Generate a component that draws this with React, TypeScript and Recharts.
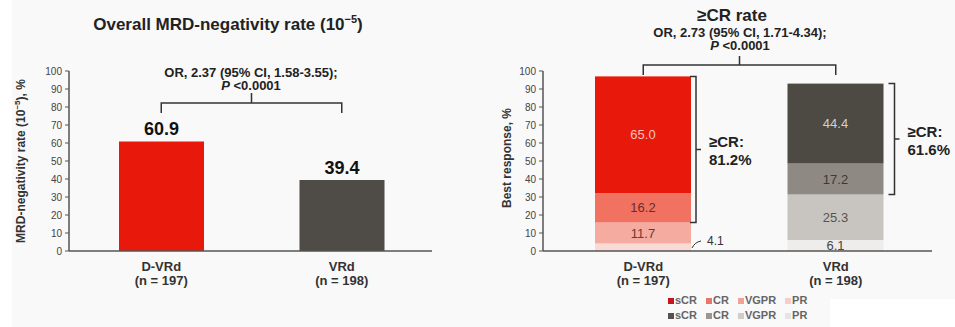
import React from 'react';
import { BarChart, Bar, XAxis, YAxis, Cell, LabelList, ReferenceLine } from 'recharts';

const FONT = '"Liberation Sans", Arial, Helvetica, sans-serif';

// ---- Overall MRD-negativity rate ----
const mrdArms = ['D-VRd', 'VRd'];
const mrdArmSizes = [197, 198];
const mrdRates = [60.9, 39.4];
const mrdOddsText = 'OR, 2.37 (95% CI, 1.58-3.55);';
const mrdPText = '<0.0001';

// ---- Best response ----
const respArms = ['D-VRd', 'VRd'];
const respArmSizes = [197, 198];
const respPR = [4.1, 6.1];
const respVGPR = [11.7, 25.3];
const respCR = [16.2, 17.2];
const respSCR = [65.0, 44.4];
const respOddsText = 'OR, 2.73 (95% CI, 1.71-4.34);';
const respPText = '<0.0001';
const responseLevels = ['sCR', 'CR', 'VGPR', 'PR'];

const yTicks = [0, 10, 20, 30, 40, 50, 60, 70, 80, 90, 100];

// comparison bracket heights (axis units)
const MRD_BRACKET_Y = 82.2;
const RESP_BRACKET_Y = 103.3;

// ---- styling ----
const ARM_COLORS = ['#e8190a', '#4f4b46'];
const SEG_COLORS: Record<string, string[]> = {
  sCR: ['#e8190a', '#4d4943'],
  CR: ['#f27262', '#8f8983'],
  VGPR: ['#f6aba1', '#c8c5c0'],
  PR: ['#fadad5', '#eeedeb'],
};
const SEG_TEXT: Record<string, string[]> = {
  sCR: ['#f6c4bb', '#d3cfca'],
  CR: ['#6b2c25', '#3d3935'],
  VGPR: ['#6b3a35', '#57534e'],
  PR: ['#333333', '#4a4642'],
};
const LEGEND_ROWS = [
  ['#c4161c', '#e8766c', '#f0a39b', '#f6cdca'],
  ['#555350', '#9a9792', '#cfcdca', '#e6e5e3'],
];
const AXIS = { stroke: '#555', strokeWidth: 1.5 };
const INK = '#222';
const CR_BRACKET_GAP = [5, 11];

const mrdData = mrdArms.map((arm, i) => ({ arm, rate: mrdRates[i] }));
const respData = respArms.map((arm, i) => ({
  arm,
  PR: respPR[i],
  VGPR: respVGPR[i],
  CR: respCR[i],
  sCR: respSCR[i],
}));

function armIndex(arms: string[], payload: any) {
  if (payload && typeof payload.index === 'number') return payload.index;
  return arms.indexOf(payload?.value);
}

function ArmTick(props: any) {
  const { x, y, payload, arms, sizes } = props;
  const i = armIndex(arms, payload);
  return (
    <g transform={`translate(${x},${y})`}>
      <text textAnchor="middle" fontFamily={FONT} fontWeight="bold" fontSize={13} fill="#333">
        <tspan x={0} dy={18}>{payload.value}</tspan>
        <tspan x={0} dy={14}>(n = {sizes[i]})</tspan>
      </text>
    </g>
  );
}

// horizontal comparison bracket with end legs and a centre stem
function makeBracket(leg: number, stem: number) {
  return (p: any) => {
    const { x1, y1, x2 } = p;
    const mx = (x1 + x2) / 2;
    return (
      <path
        d={`M${x1},${y1 + leg} V${y1} H${x2} V${y1 + leg} M${mx},${y1} V${y1 - stem}`}
        fill="none"
        stroke="#333"
        strokeWidth={1.5}
      />
    );
  };
}

function boxOf(p: any) {
  const vb = p.viewBox && typeof p.viewBox.x === 'number' ? p.viewBox : p;
  return { x: Number(vb.x), y: Number(vb.y), width: Number(vb.width), height: Number(vb.height) };
}

function segLabel(key: string) {
  return (p: any) => {
    const { x, y, width, height } = boxOf(p);
    const i = p.index ?? 0;
    const v = Number(p.value);
    return (
      <text
        x={x + width / 2}
        y={y + height / 2}
        textAnchor="middle"
        dominantBaseline="central"
        fontFamily={FONT}
        fontSize={13}
        fill={SEG_TEXT[key][i]}
      >
        {v.toFixed(1)}
      </text>
    );
  };
}

// PR segment: thin first segment gets an outside label with a leader
function PRLabel(p: any) {
  const { x, y, width, height } = boxOf(p);
  const i = p.index ?? 0;
  const v = Number(p.value);
  if (i === 0) {
    const bx = x + width;
    const by = y + height;
    return (
      <g>
        <path
          d={`M${bx + 1},${by - 3} Q${bx + 4},${by - 9} ${bx + 10},${by - 10}`}
          fill="none"
          stroke="#333"
          strokeWidth={1}
        />
        <text x={bx + 16} y={by - 10} dominantBaseline="central" fontFamily={FONT} fontSize={12} fill="#333">
          {v.toFixed(1)}
        </text>
      </g>
    );
  }
  return segLabel('PR')(p);
}

// top (sCR) segment, plus the >=CR bracket spanning sCR + CR
function SCRShape(p: any) {
  const { x, y, width, height, index } = p;
  const i = index ?? 0;
  const scr = respSCR[i];
  const cr = respCR[i];
  const top = y;
  const bottom = y + (height * (scr + cr)) / scr;
  const bx = x + width + CR_BRACKET_GAP[i];
  const mid = (top + bottom) / 2;
  return (
    <g>
      <rect x={x} y={y} width={width} height={height} fill={SEG_COLORS.sCR[i]} />
      <path
        d={`M${bx - 6},${top} H${bx} V${bottom} H${bx - 6} M${bx},${mid} H${bx + 5}`}
        fill="none"
        stroke="#333"
        strokeWidth={1.5}
      />
      <text fontFamily={FONT} fontWeight="bold" fontSize={15} fill={INK} dominantBaseline="central">
        <tspan x={bx + 13} y={mid - 8}>≥CR:</tspan>
        <tspan x={bx + 13} y={mid + 10}>{(scr + cr).toFixed(1)}%</tspan>
      </text>
    </g>
  );
}

function ResponseLegend() {
  const armRows = LEGEND_ROWS;
  return (
    <div
      style={{
        position: 'absolute',
        left: 668,
        top: 293,
        fontFamily: FONT,
        fontSize: 11,
        fontWeight: 'bold',
        color: '#666',
        lineHeight: '15px',
      }}
    >
      {armRows.map((colors, r) => (
        <div key={r} style={{ display: 'flex', alignItems: 'center', height: 15 }}>
          {responseLevels.map((lvl, k) => (
            <div key={lvl} style={{ display: 'flex', alignItems: 'center', marginRight: 9 }}>
              <span style={{ display: 'inline-block', width: 6, height: 6, background: colors[k], marginRight: 1 }} />
              <span>{lvl}</span>
            </div>
          ))}
        </div>
      ))}
    </div>
  );
}

export default function App() {
  return (
    <div
      style={{
        position: 'absolute',
        left: 0,
        top: 0,
        width: 955,
        height: 327,
        background: '#f9f9f9',
        fontFamily: FONT,
        overflow: 'hidden',
      }}
    >
      <div style={{ position: 'absolute', left: 0, top: 0, width: 12, height: 327, background: '#ffffff' }} />
      <div style={{ position: 'absolute', left: 830, top: 299, width: 125, height: 28, background: '#ffffff' }} />

      <div style={{ position: 'absolute', left: 0, top: 0 }}>
        <BarChart width={480} height={327} data={mrdData} margin={{ top: 71, right: 48, bottom: 36, left: 19 }}>
          <XAxis
            dataKey="arm"
            height={40}
            axisLine={AXIS}
            tickLine={false}
            tickSize={0}
            interval={0}
            padding={{ left: 2, right: 0 }}
            tick={<ArmTick arms={mrdArms} sizes={mrdArmSizes} />}
          />
          <YAxis
            width={50}
            domain={[0, 100]}
            ticks={yTicks}
            interval={0}
            axisLine={AXIS}
            tickLine={{ stroke: '#555' }}
            tickSize={4}
            tickMargin={3}
            tick={{ fontSize: 10, fill: '#444', fontFamily: FONT }}
          />
          <ReferenceLine
            segment={[
              { x: mrdArms[0], y: MRD_BRACKET_Y },
              { x: mrdArms[1], y: MRD_BRACKET_Y },
            ]}
            ifOverflow="visible"
            shape={makeBracket(10, 10)}
          />
          <Bar dataKey="rate" barSize={85} isAnimationActive={false}>
            {mrdData.map((d, i) => (
              <Cell key={d.arm} fill={ARM_COLORS[i]} />
            ))}
            <LabelList
              dataKey="rate"
              position="top"
              offset={6}
              formatter={(v: any) => Number(v).toFixed(1)}
              style={{ fontSize: 18, fontWeight: 'bold', fill: '#111', fontFamily: FONT }}
            />
          </Bar>
        </BarChart>
      </div>

      <div style={{ position: 'absolute', left: 480, top: 0 }}>
        <BarChart width={475} height={327} data={respData} margin={{ top: 71, right: 23, bottom: 36, left: 23 }}>
          <XAxis
            dataKey="arm"
            height={40}
            axisLine={AXIS}
            tickLine={false}
            tickSize={0}
            interval={0}
            padding={{ left: 4, right: 0 }}
            tick={<ArmTick arms={respArms} sizes={respArmSizes} />}
          />
          <YAxis
            width={40}
            domain={[0, 100]}
            ticks={yTicks}
            interval={0}
            axisLine={AXIS}
            tickLine={{ stroke: '#555' }}
            tickSize={4}
            tickMargin={3}
            tick={{ fontSize: 10, fill: '#444', fontFamily: FONT }}
          />
          <ReferenceLine
            segment={[
              { x: respArms[0], y: RESP_BRACKET_Y },
              { x: respArms[1], y: RESP_BRACKET_Y },
            ]}
            ifOverflow="visible"
            shape={makeBracket(10, 9)}
          />
          <Bar dataKey="PR" stackId="r" barSize={96} isAnimationActive={false}>
            {respData.map((d, i) => (
              <Cell key={d.arm} fill={SEG_COLORS.PR[i]} />
            ))}
            <LabelList dataKey="PR" content={PRLabel} />
          </Bar>
          <Bar dataKey="VGPR" stackId="r" barSize={96} isAnimationActive={false}>
            {respData.map((d, i) => (
              <Cell key={d.arm} fill={SEG_COLORS.VGPR[i]} />
            ))}
            <LabelList dataKey="VGPR" content={segLabel('VGPR')} />
          </Bar>
          <Bar dataKey="CR" stackId="r" barSize={96} isAnimationActive={false}>
            {respData.map((d, i) => (
              <Cell key={d.arm} fill={SEG_COLORS.CR[i]} />
            ))}
            <LabelList dataKey="CR" content={segLabel('CR')} />
          </Bar>
          <Bar dataKey="sCR" stackId="r" barSize={96} isAnimationActive={false} shape={SCRShape}>
            {respData.map((d, i) => (
              <Cell key={d.arm} fill={SEG_COLORS.sCR[i]} />
            ))}
            <LabelList dataKey="sCR" content={segLabel('sCR')} />
          </Bar>
        </BarChart>
      </div>

      <svg
        width={955}
        height={327}
        style={{ position: 'absolute', left: 0, top: 0, pointerEvents: 'none' }}
        fontFamily={FONT}
      >
        <text x={228} y={30} textAnchor="middle" fontSize={17} fontWeight="bold" fill={INK}>
          Overall MRD-negativity rate (10
          <tspan fontSize={11} dy={-7}>−5</tspan>
          <tspan dy={7}>)</tspan>
        </text>
        <text x={251} y={76.5} textAnchor="middle" fontSize={13} fontWeight="bold" fill={INK}>
          {mrdOddsText}
        </text>
        <text x={251} y={90} textAnchor="middle" fontSize={13} fontWeight="bold" fill={INK}>
          <tspan fontStyle="italic">P</tspan> {mrdPText}
        </text>
        <text
          transform="translate(25,161) rotate(-90)"
          textAnchor="middle"
          fontSize={12}
          fontWeight="bold"
          fill="#333"
        >
          MRD-negativity rate (10
          <tspan fontSize={8} dy={-5}>−5</tspan>
          <tspan dy={5}>), %</tspan>
        </text>

        <text x={732} y={21} textAnchor="middle" fontSize={17} fontWeight="bold" fill={INK}>
          ≥CR rate
        </text>
        <text x={740} y={36.5} textAnchor="middle" fontSize={13} fontWeight="bold" fill={INK}>
          {respOddsText}
        </text>
        <text x={740} y={50} textAnchor="middle" fontSize={13} fontWeight="bold" fill={INK}>
          <tspan fontStyle="italic">P</tspan> {respPText}
        </text>
        <text
          transform="translate(511,158) rotate(-90)"
          textAnchor="middle"
          fontSize={12}
          fontWeight="bold"
          fill="#333"
        >
          Best response, %
        </text>
      </svg>

      <ResponseLegend />
    </div>
  );
}
